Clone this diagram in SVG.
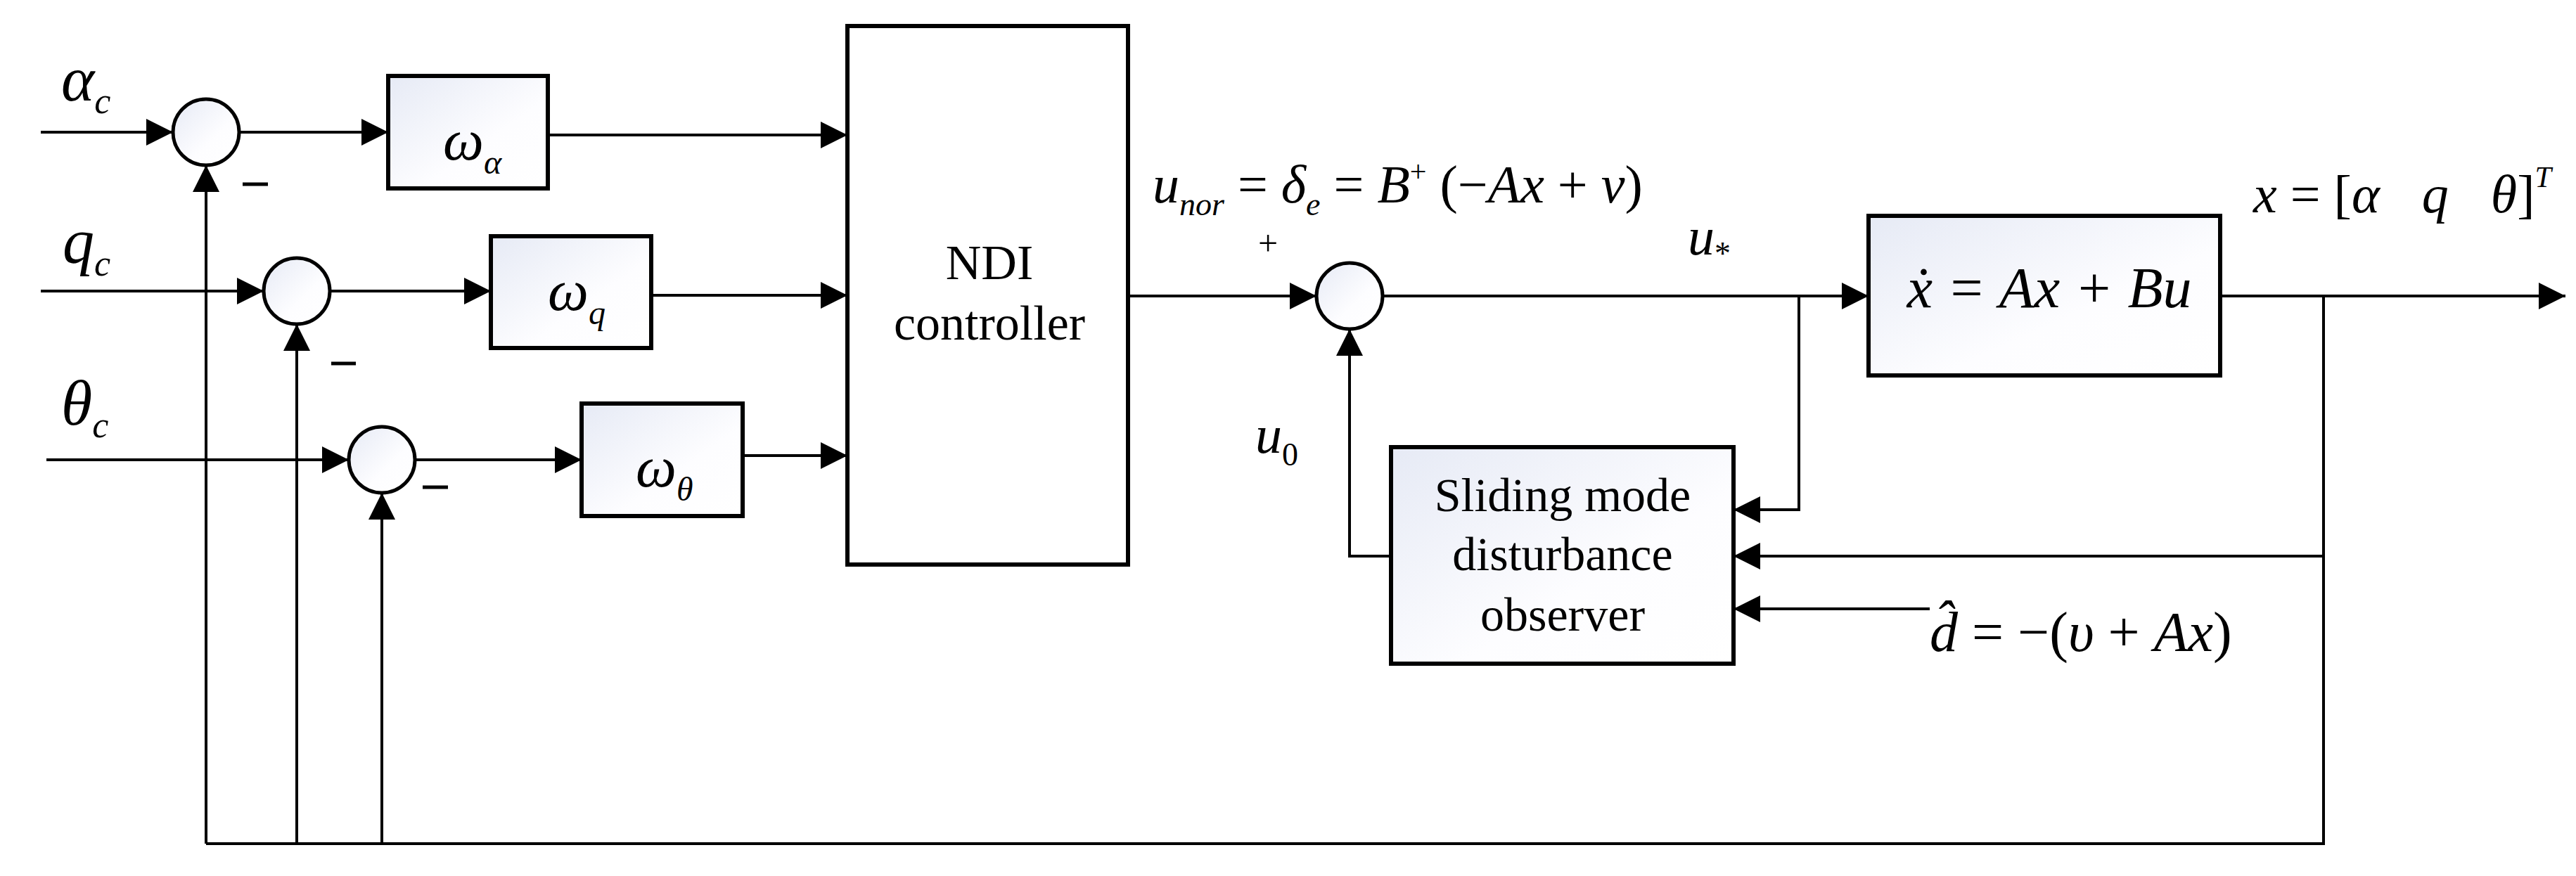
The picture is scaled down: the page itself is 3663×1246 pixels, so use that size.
<svg xmlns="http://www.w3.org/2000/svg" width="3663" height="1246" viewBox="0 0 3663 1246">
<style>
.box{fill:url(#g);stroke:#000;stroke-width:6}
.sum{fill:url(#g);stroke:#000;stroke-width:5}
.ln{fill:none;stroke:#000;stroke-width:4}
.arr{marker-end:url(#a)}
text{font-family:"Liberation Serif",serif;fill:#000}
.m{font-style:italic}
</style>
<defs>
<linearGradient id="g" x1="0" y1="0" x2="1" y2="1"><stop offset="0" stop-color="#e6eaf5"/><stop offset="0.6" stop-color="#fdfdff"/><stop offset="1" stop-color="#ffffff"/></linearGradient>
<marker id="a" markerUnits="userSpaceOnUse" markerWidth="40" markerHeight="40" refX="38" refY="19" orient="auto"><path d="M0,0 L38,19 L0,38 Z" fill="#000"/></marker>
</defs>
<g id="connectors">
<path class="ln arr" d="M58,188 H246"/>
<path class="ln arr" d="M340,188 H552"/>
<path class="ln arr" d="M779,192 H1205"/>
<path class="ln arr" d="M58,414 H375"/>
<path class="ln arr" d="M469,414 H698"/>
<path class="ln arr" d="M926,420 H1205"/>
<path class="ln arr" d="M66,654 H496"/>
<path class="ln arr" d="M590,654 H827"/>
<path class="ln arr" d="M1056,648 H1205"/>
<path class="ln arr" d="M1604,421 H1872"/>
<path class="ln arr" d="M1966,421 H2657"/>
<path class="ln arr" d="M3157,421 H3648"/>
<path class="ln arr" d="M2558,421 V725 H2465"/>
<path class="ln arr" d="M3304,421 V791 H2465"/>
<path class="ln arr" d="M2744,866 H2465"/>
<path class="ln arr" d="M1978,791 H1919 V468"/>
<path class="ln" d="M3304,791 V1200 H293"/>
<path class="ln arr" d="M293,1200 V235"/>
<path class="ln arr" d="M422,1200 V461"/>
<path class="ln arr" d="M543,1200 V701"/>
</g>
<g id="sum1"><circle class="sum" cx="293" cy="188" r="47"/><line x1="345" y1="262" x2="381" y2="262" stroke="#000" stroke-width="5"/></g>
<g id="sum2"><circle class="sum" cx="422" cy="414" r="47"/><line x1="471" y1="517" x2="506" y2="517" stroke="#000" stroke-width="5"/></g>
<g id="sum3"><circle class="sum" cx="543" cy="654" r="47"/><line x1="601" y1="693" x2="637" y2="693" stroke="#000" stroke-width="5"/></g>
<g id="sum4"><circle class="sum" cx="1919" cy="421" r="47"/><text x="1803" y="363" font-size="50" text-anchor="middle">+</text></g>
<g id="w_alpha"><rect class="box" x="552" y="108" width="227" height="160"/><text class="m" x="630" y="227" font-size="82">ω<tspan font-size="48" dy="20">α</tspan></text></g>
<g id="w_q"><rect class="box" x="698" y="336" width="228" height="159"/><text class="m" x="779" y="441" font-size="82">ω<tspan font-size="48" dy="20">q</tspan></text></g>
<g id="w_theta"><rect class="box" x="827" y="574" width="229" height="160"/><text class="m" x="904" y="692" font-size="82">ω<tspan font-size="48" dy="20">θ</tspan></text></g>
<g id="ndi"><rect x="1205" y="37" width="399" height="766" fill="#fff" stroke="#000" stroke-width="6"/><text x="1407" y="397" font-size="70" text-anchor="middle">NDI</text><text x="1407" y="483" font-size="70" text-anchor="middle">controller</text></g>
<g id="plant"><rect class="box" x="2657" y="307" width="500" height="227"/><text class="m" x="2914" y="437" font-size="82" text-anchor="middle">ẋ = Ax + Bu</text></g>
<g id="smdo"><rect class="box" x="1978" y="636" width="487" height="308"/><text x="2222" y="727" font-size="68" text-anchor="middle">Sliding mode</text><text x="2222" y="811" font-size="68" text-anchor="middle">disturbance</text><text x="2222" y="897" font-size="68" text-anchor="middle">observer</text></g>
<g id="labels">
<text class="m" x="87" y="143" font-size="90">α<tspan font-size="52" dy="18">c</tspan></text>
<text class="m" x="89" y="374" font-size="90">q<tspan font-size="52" dy="18">c</tspan></text>
<text class="m" x="87" y="604" font-size="90">θ<tspan font-size="52" dy="18">c</tspan></text>
<text class="m" x="1639" y="288" font-size="76">u<tspan font-size="46" dy="18">nor</tspan><tspan dy="-18" font-style="normal"> = </tspan>δ<tspan font-size="46" dy="18">e</tspan><tspan dy="-18" font-style="normal"> = </tspan>B<tspan font-size="42" dy="-30" font-style="normal">+</tspan><tspan dy="30" font-style="normal"> (−</tspan>Ax<tspan font-style="normal"> + </tspan>v<tspan font-style="normal">)</tspan></text>
<text class="m" x="2400" y="362" font-size="76">u<tspan font-size="46" dy="14" font-style="normal">*</tspan></text>
<text class="m" x="1785" y="644" font-size="76">u<tspan font-size="46" dy="18" font-style="normal">0</tspan></text>
<text class="m" x="3204" y="302" font-size="76">x<tspan font-style="normal"> = [</tspan>α<tspan dx="60">q</tspan><tspan dx="60">θ</tspan><tspan font-style="normal">]</tspan><tspan font-size="42" dy="-36">T</tspan></text>
<text class="m" x="2744" y="926" font-size="80">d̂<tspan font-style="normal"> = −(</tspan>υ<tspan font-style="normal"> + </tspan>Ax<tspan font-style="normal">)</tspan></text>
</g>
</svg>
